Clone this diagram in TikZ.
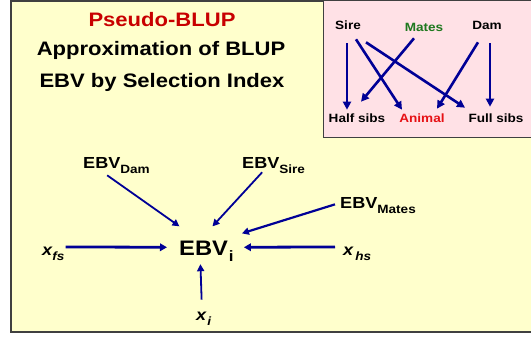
\documentclass[tikz,border=0pt]{standalone}
\usepackage{fontspec}
\setmainfont[FakeStretch=1.13]{Liberation Sans}
\usetikzlibrary{arrows.meta,calc}

\definecolor{slideyellow}{RGB}{255,255,204}
\definecolor{boxpink}{RGB}{255,225,230}
\definecolor{framegray}{RGB}{64,64,64}
\definecolor{titlered}{RGB}{200,0,0}
\definecolor{animalred}{RGB}{230,16,20}
\definecolor{matesgreen}{RGB}{30,120,30}
\definecolor{arrowblue}{RGB}{0,0,150}

% sizes in pt; one unit of the picture is one pt
\newcommand{\fs}[1]{\fontsize{#1}{#1}\selectfont}
\newcommand{\lowsub}[3]{\raisebox{-#2pt}{\fs{#1}#3}}

\tikzset{
  lbl/.style={inner sep=0pt, font=\bfseries},
  headline/.style={lbl, anchor=base, font=\bfseries\fs{19.5}},
  famlbl/.style={lbl, anchor=base, font=\bfseries\fs{12}},
  srclbl/.style={lbl, anchor=base west, font=\bfseries\fs{16}},
  obslbl/.style={lbl, anchor=base west, font=\bfseries\itshape\fs{16}},
  famarrow/.style={draw=arrowblue, line width=2.6pt,
    -{Triangle[length=8pt,width=8pt]}},
  thinarrow/.style={draw=arrowblue, line width=1.8pt,
    -{Triangle[length=7pt,width=7pt]}},
  widearrow/.style={draw=arrowblue, line width=2.8pt,
    -{Triangle[length=7pt,width=7.5pt]}},
}

\begin{document}
\begin{tikzpicture}[x=1pt,y=-1pt]
\useasboundingbox (0,0) rectangle (531,337);
\fill[white] (0,0) rectangle (531,337);
\clip (0,0) rectangle (531,337);

% slide panel and the pedigree inset
\draw[framegray, line width=1.5pt, fill=slideyellow] (11,1) rectangle (545,332);
\draw[framegray, line width=1pt, fill=boxpink] (323,1) rectangle (545,138);

% headings
\node[headline, text=titlered] (t1) at (162,27) {Pseudo-BLUP};
\node[headline] (t2) at (161,56) {Approximation of BLUP};
\node[headline] (t3) at (162,88) {EBV by Selection Index};

% pedigree inset
\node[famlbl] (sire)   at (348,30)  {Sire};
\node[famlbl, text=matesgreen] (mates) at (424,32) {Mates};
\node[famlbl] (dam)    at (487,30)  {Dam};
\node[famlbl] (half)   at (357,123) {Half sibs};
\node[famlbl, text=animalred] (animal) at (422,123) {Animal};
\node[famlbl] (full)   at (496,123) {Full sibs};

\draw[famarrow] ($(sire.south)+(-1,13)$)  -- ($(half.north)+(-10,-4.4)$);
\draw[famarrow] ($(sire.south)+(8,9)$)    -- ($(animal.north)+(-20,-4.4)$);
\draw[famarrow] ($(sire.south)+(18,12)$)  -- ($(full.north)+(-31,-6.4)$);
\draw[famarrow] ($(mates.south)+(-10,6)$) -- ($(half.north)+(4,-12.4)$);
\draw[famarrow] ($(dam.south)+(-9,12)$)   -- ($(animal.north)+(15,-5.4)$);
\draw[famarrow] ($(dam.south)+(3,13)$)    -- ($(full.north)+(-6,-7.4)$);

% index sources
\node[lbl, anchor=base west, font=\bfseries\fs{21}] (ebvi) at (179,255)
  {EBV\lowsub{15}{6}{\kern1pt i}};
\node[srclbl] (ebvdam)   at (83,168)  {EBV\lowsub{12}{5}{Dam}};
\node[srclbl] (ebvsire)  at (242,168) {EBV\lowsub{12}{5}{Sire}};
\node[srclbl] (ebvmates) at (340,208) {EBV\lowsub{12}{5}{Mates}};
\node[obslbl] (xfs) at (42,255)  {x\lowsub{12}{5}{fs}};
\node[obslbl] (xhs) at (343,255) {x\kern2pt\lowsub{12}{5}{hs}};
\node[obslbl] (xi)  at (196,320) {x\lowsub{12}{5}{\kern1pt i}};

\draw[thinarrow] ($(ebvdam.south)+(-9.3,2)$)    -- ($(ebvi.north)+(-27,-14)$);
\draw[thinarrow] ($(ebvsire.south)+(-11.5,-1)$) -- ($(ebvi.north)+(6,-14)$);
\draw[thinarrow, line width=2.2pt] ($(ebvmates.west)+(-5,-0.7)$) -- ($(ebvi.north east)+(8,-7)$);
\draw[widearrow] ($(xfs.east)+(1,-6.4)$)  -- ($(ebvi.west)+(-12,-3.5)$);
\draw[widearrow] ($(xhs.west)+(-8,-6.4)$) -- ($(ebvi.east)+(10,-3.5)$);
\draw[thinarrow] ($(xi.north)+(-2,-11.7)$) -- ($(ebvi.south)+(-6,3)$);
\end{tikzpicture}
\end{document}
